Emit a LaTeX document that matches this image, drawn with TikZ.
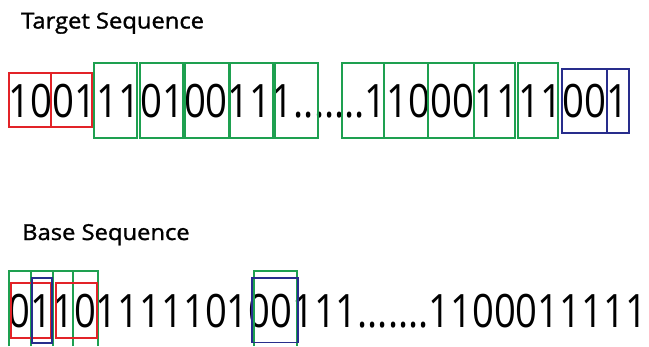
\documentclass[tikz,border=0pt]{standalone}
\usepackage{fontspec}
\setmainfont{Open Sans}
\newfontfamily\titlefont{Open Sans}[FakeBold=1.3]
\definecolor{bxred}{RGB}{226,35,40}
\definecolor{bxgreen}{RGB}{30,160,80}
\definecolor{bxblue}{RGB}{40,45,140}
\begin{document}
\begin{tikzpicture}[x=1pt,y=-1pt,
  redbox/.style={draw=bxred,line width=2.2pt},
  greenbox/.style={draw=bxgreen,line width=2.2pt},
  bluebox/.style={draw=bxblue,line width=1.9pt},
  title/.style={anchor=base west,inner sep=0pt,font=\titlefont\fontsize{22}{22}\selectfont},
  seq/.style={anchor=base west,inner sep=0pt,font=\fontsize{46}{46}\selectfont}]
\useasboundingbox (0,0) rectangle (649,346);
% titles
\node[title] (ttitle) at (21,28.5) {\scalebox{1.08}[1]{Target Sequence}};
\node[title] (btitle) at (22,240) {\scalebox{1.08}[1]{Base Sequence}};
% sequences
\node[seq] (tseq) at (8.5,117) {\scalebox{0.833}[1]{1001110100111.......110001111001}};
\node[seq] (bseq) at (8.5,327) {\scalebox{0.829}[1]{0110111110100111.......1100011111}};
% target boxes
\draw[redbox] (9.3,73.3) rectangle (50.7,126.7);
\draw[redbox] (50.7,73.3) rectangle (92.3,126.7);
\foreach \a/\b in {94.3/137.3,140/182.7,185/229.3,230/273.3,275.3/318.3,341.7/384,384/428.3,428.3/474,474/515,518/558.3}
  \draw[greenbox] (\a,63.3) rectangle (\b,138.3);
\draw[bluebox] (561.7,69) rectangle (607.3,133.3);
\draw[bluebox] (607.3,69) rectangle (629,133.3);
% base boxes (running off the bottom edge)
\foreach \a/\b in {9.3/30.7,30.7/53.3,53.3/72.7,72.7/98.3,254/296.7}
  \draw[greenbox] (\a,346) -- (\a,271.3) -- (\b,271.3) -- (\b,346);
\draw[redbox] (11,283) rectangle (50.7,337.7);
\draw[redbox] (56,283) rectangle (96.7,337.7);
\draw[bluebox] (32.3,278.3) rectangle (52.3,343);
\draw[bluebox] (252.3,278.3) rectangle (297.7,342.5);
\end{tikzpicture}
\end{document}
